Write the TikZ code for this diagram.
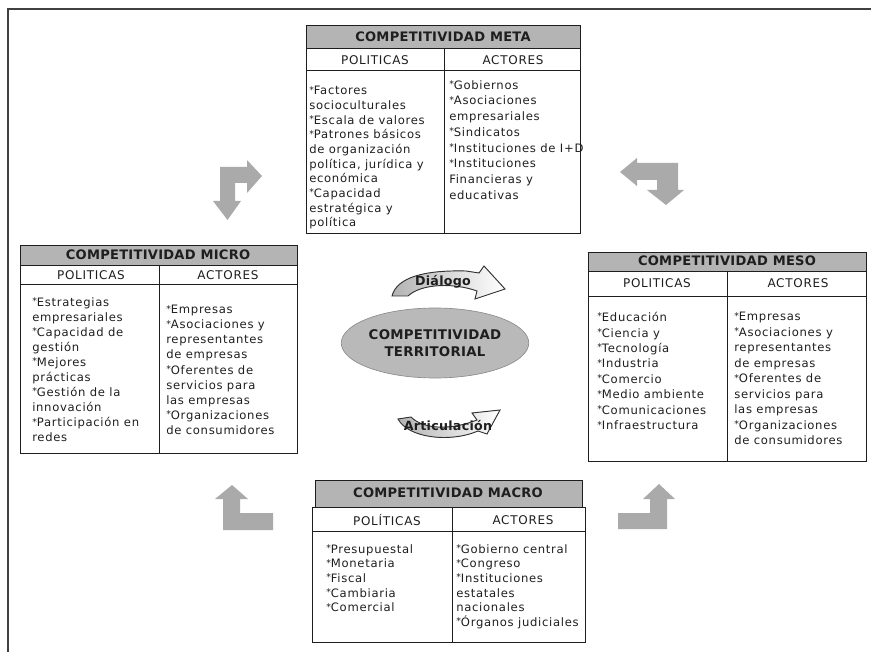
\documentclass[tikz,border=0pt]{standalone}
\usepackage{fontspec}
\usetikzlibrary{shapes.geometric}
\setmainfont{DejaVu Sans}
\newfontfamily\dv[LetterSpace=6]{DejaVu Sans}
\newfontfamily\dvb[LetterSpace=2]{DejaVu Sans Bold}
\newcommand\txtf[1]{\dv\fontsize{8.7}{#1}\selectfont}
\newcommand\bul{\raisebox{0.25ex}{\scriptsize *}}
\definecolor{hdr}{HTML}{B4B4B4}
\definecolor{arrowgray}{HTML}{AAAAAA}
\definecolor{ovalgray}{HTML}{B9B9B9}
\definecolor{ink}{HTML}{1E1E1E}
\begin{document}
\begin{tikzpicture}[x=0.75pt,y=-0.75pt,
  framel/.style={draw=black!75,line width=1.1pt},
  tabline/.style={draw=ink,line width=0.7pt},
  titlefill/.style={fill=hdr},
  titletxt/.style={font=\dvb\fontsize{9.8}{11}\selectfont,text=ink,inner sep=0pt},
  colhead/.style={font=\dv\fontsize{9}{10}\selectfont,text=ink,inner sep=0pt},
  bodytxt/.style={align=left,anchor=north west,inner sep=0pt,text=ink},
  bentarrow/.style={fill=arrowgray,draw=none},
  curvearrow/.style={draw=black!80,line width=0.7pt,left color=black!30,right color=white},
  curvetxt/.style={font=\dvb\fontsize{9.5}{11}\selectfont,text=ink,inner sep=0pt},
  oval/.style={ellipse,fill=ovalgray,draw=black!45,line width=0.5pt,minimum width=124.5pt,minimum height=52.5pt,inner sep=0pt}
]
\useasboundingbox (0,0) rectangle (871,652);

% page frame (top and left edges)
\draw[framel] (8,652) -- (8,9) -- (871,9);

% ---------- COMPETITIVIDAD META ----------
\fill[titlefill] (306,25) rectangle (580,48);
\draw[tabline] (306,25) rectangle (580,233);
\draw[tabline] (306,48) -- (580,48) (306,70) -- (580,70) (444,48) -- (444,233);
\node[titletxt] (metaT) at (443,37) {COMPETITIVIDAD META};
\node[colhead] (metaP) at (375,60) {POLITICAS};
\node[colhead] (metaA) at (513,60) {ACTORES};
\node[bodytxt,font=\txtf{11}] (metaPl) at (309,86) {\bul Factores\\socioculturales\\\bul Escala de valores\\\bul Patrones básicos\\de organización\\política, jurídica y\\económica\\\bul Capacidad\\estratégica y\\política};
\node[bodytxt,font=\txtf{11.8}] (metaAl) at (449,80) {\bul Gobiernos\\\bul Asociaciones\\empresariales\\\bul Sindicatos\\\bul Instituciones de I+D\\\bul Instituciones\\Financieras y\\educativas};

% ---------- COMPETITIVIDAD MICRO ----------
\fill[titlefill] (20,245) rectangle (297,265);
\draw[tabline] (20,245) rectangle (297,453);
\draw[tabline] (20,265) -- (297,265) (20,284) -- (297,284) (159,265) -- (159,453);
\node[titletxt] (microT) at (158,255) {COMPETITIVIDAD MICRO};
\node[colhead] (microP) at (91,275) {POLITICAS};
\node[colhead] (microA) at (228,275) {ACTORES};
\node[bodytxt,font=\txtf{11.3}] (microPl) at (32,297) {\bul Estrategias\\empresariales\\\bul Capacidad de\\gestión\\\bul Mejores\\prácticas\\\bul Gestión de la\\innovación\\\bul Participación en\\redes};
\node[bodytxt,font=\txtf{11.3}] (microAl) at (166,305) {\bul Empresas\\\bul Asociaciones y\\representantes\\de empresas\\\bul Oferentes de\\servicios para\\las empresas\\\bul Organizaciones\\de consumidores};

% ---------- COMPETITIVIDAD MESO ----------
\fill[titlefill] (588,252) rectangle (866,271);
\draw[tabline] (588,252) rectangle (866,461);
\draw[tabline] (588,271) -- (866,271) (588,296) -- (866,296) (727,271) -- (727,461);
\node[titletxt] (mesoT) at (727,261) {COMPETITIVIDAD MESO};
\node[colhead] (mesoP) at (657,283) {POLITICAS};
\node[colhead] (mesoA) at (798,283) {ACTORES};
\node[bodytxt,font=\txtf{11.6}] (mesoPl) at (597,312) {\bul Educación\\\bul Ciencia y\\\bul Tecnología\\\bul Industria\\\bul Comercio\\\bul Medio ambiente\\\bul Comunicaciones\\\bul Infraestructura};
\node[bodytxt,font=\txtf{11.6}] (mesoAl) at (734,312) {\bul Empresas\\\bul Asociaciones y\\representantes\\de empresas\\\bul Oferentes de\\servicios para\\las empresas\\\bul Organizaciones\\de consumidores};

% ---------- COMPETITIVIDAD MACRO ----------
\fill[titlefill] (315,480) rectangle (582,507);
\draw[tabline] (315,480) rectangle (582,507);
\draw[tabline] (312,507) rectangle (585,642);
\draw[tabline] (312,531) -- (585,531) (452,507) -- (452,642);
\node[titletxt] (macroT) at (448,493) {COMPETITIVIDAD MACRO};
\node[colhead] (macroP) at (387,520) {POLÍTICAS};
\node[colhead] (macroA) at (523,520) {ACTORES};
\node[bodytxt,font=\txtf{11.0}] (macroPl) at (326,544) {\bul Presupuestal\\\bul Monetaria\\\bul Fiscal\\\bul Cambiaria\\\bul Comercial};
\node[bodytxt,font=\txtf{11.0}] (macroAl) at (456,544) {\bul Gobierno central\\\bul Congreso\\\bul Instituciones\\estatales\\nacionales\\\bul Órganos judiciales};

% ---------- centre ----------
\node[oval,font=\dvb\fontsize{10}{13}\selectfont,text=ink,align=center] (terr) at (435,343) {COMPETITIVIDAD\\TERRITORIAL};

% curved arrow: Diálogo (head pointing down to the right)
\filldraw[curvearrow] (392,296) .. controls (397,277) and (425,270) .. (466,271) -- (479,273) -- (484,266) -- (505,289) -- (475,299) -- (477,291) .. controls (455,283) and (422,283) .. (408,296) -- cycle;
\node[curvetxt] (dial) at (443,282) {Diálogo};

% curved arrow: Articulación (head pointing up to the right)
\filldraw[curvearrow] (398,419) .. controls (408,438) and (450,443) .. (478,431) -- (487,434) -- (500,410) -- (472,413) -- (477,420) .. controls (452,430) and (424,430) .. (411,417) -- cycle;
\node[curvetxt] (artic) at (448,426) {Articulación};

% ---------- bent arrows in the corners ----------
% top left: heads to the right and downwards
\fill[bentarrow] (220,167) -- (247,167) -- (247,160) -- (262,176) -- (247,193) -- (247,183) -- (235,183) -- (235,201) -- (241,201) -- (227.5,220) -- (213,201) -- (220,201) -- cycle;
% top right: heads to the left and downwards
\fill[bentarrow] (678,163) -- (678,190) -- (684,190) -- (666,205) -- (647,190) -- (657,190) -- (657,180) -- (637,180) -- (637,186) -- (620,172) -- (637,158) -- (637,163) -- cycle;
% bottom left: head upwards
\fill[bentarrow] (223,530) -- (223,499) -- (215,499) -- (232,485) -- (248,499) -- (240,499) -- (240,513) -- (273,513) -- (273,530) -- cycle;
% bottom right: head upwards
\fill[bentarrow] (618,513) -- (650,513) -- (650,499) -- (643,499) -- (659,484) -- (675,499) -- (667,499) -- (667,529) -- (618,529) -- cycle;
\end{tikzpicture}
\end{document}
